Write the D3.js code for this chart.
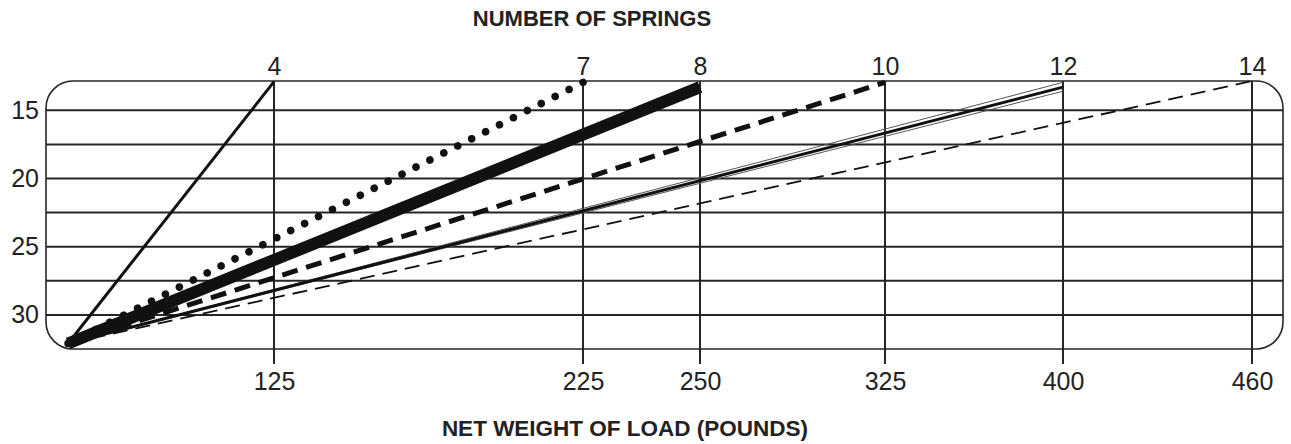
<!DOCTYPE html>
<html>
<head>
<meta charset="utf-8">
<script src="https://cdn.jsdelivr.net/npm/d3@7"></script>
<style>
  html, body { margin: 0; padding: 0; background: #fff; }
  svg { display: block; }
  text { font-family: "Liberation Sans", Arial, Helvetica, sans-serif; fill: #222; }
</style>
</head>
<body>
<svg id="chart" width="1291" height="444"></svg>
<script>
// ---- data ----
const springs   = [4, 7, 8, 10, 12, 14];
const maxLoad   = [125, 225, 250, 325, 400, 460];      // pounds at top of each line
const endHeight = [12.9, 12.95, 13.3, 12.95, 13.3, 12.85];
const startLoad = 0;
const startHeight = 32.1;
const band12End = [12.95, 13.6];                          // thin guide lines around 12-spring line
const yTickLabels = [15, 20, 25, 30];
const yGridValues = [15, 17.5, 20, 22.5, 25, 27.5, 30];
const topTitle = "NUMBER OF SPRINGS";
const bottomTitle = "NET WEIGHT OF LOAD (POUNDS)";

// ---- layout ----
const frame = { left: 46, right: 1283, top: 81, bottom: 349, r: 27 };
// hand-drawn (non-uniform) horizontal placement of load stops
const xStopsPx = [68, 274, 583, 700, 885, 1063, 1252];

const svg = d3.select("#chart");

const x = d3.scaleLinear()
  .domain([startLoad, ...maxLoad])
  .range(xStopsPx);

const y = d3.scaleLinear()
  .domain([12.85, 32.5])
  .range([frame.top, frame.bottom]);

const ink = "#262626";
const labelFont = '"Liberation Sans", Arial, sans-serif';
const labelSize = 25;

// frame
svg.append("rect")
  .attr("x", frame.left).attr("y", frame.top)
  .attr("width", frame.right - frame.left)
  .attr("height", frame.bottom - frame.top)
  .attr("rx", frame.r).attr("ry", frame.r)
  .attr("fill", "none").attr("stroke", ink).attr("stroke-width", 1.6);

// horizontal grid
svg.append("g").selectAll("line").data(yGridValues).join("line")
  .attr("x1", frame.left).attr("x2", frame.right)
  .attr("y1", d => y(d)).attr("y2", d => y(d))
  .attr("stroke", ink).attr("stroke-width", 2);

// vertical lines at max loads
svg.append("g").selectAll("line").data(maxLoad).join("line")
  .attr("x1", d => x(d)).attr("x2", d => x(d))
  .attr("y1", frame.top).attr("y2", frame.bottom + 15)
  .attr("stroke", ink).attr("stroke-width", 2);

// left axis labels
const yAxis = d3.axisLeft(y).tickValues(yTickLabels).tickSize(0).tickPadding(0);
const gy = svg.append("g").attr("transform", `translate(${frame.left - 7},0)`).call(yAxis);
gy.select(".domain").remove();
gy.selectAll("text").attr("font-size", labelSize).attr("fill", ink)
  .style("font-family", labelFont);

// bottom axis labels (load)
const xAxis = d3.axisBottom(x).tickValues(maxLoad).tickSize(0).tickPadding(0);
const gx = svg.append("g").attr("transform", `translate(0,${frame.bottom + 23})`).call(xAxis);
gx.select(".domain").remove();
gx.selectAll("text").attr("font-size", labelSize).attr("fill", ink).attr("dy", "0.71em")
  .style("font-family", labelFont);

// top axis labels (number of springs)
const xTop = d3.axisTop(x).tickValues(maxLoad)
  .tickFormat((d, i) => springs[i]).tickSize(0).tickPadding(0);
const gt = svg.append("g").attr("transform", `translate(0,${frame.top - 6})`).call(xTop);
gt.select(".domain").remove();
gt.selectAll("text").attr("font-size", labelSize).attr("fill", ink).attr("dy", 0)
  .style("font-family", labelFont);

// titles
svg.append("text").attr("x", 592).attr("y", 26)
  .attr("text-anchor", "middle").attr("font-size", 22).attr("font-weight", "bold")
  .text(topTitle);
svg.append("text").attr("x", 625).attr("y", 436)
  .attr("text-anchor", "middle").attr("font-size", 22.5).attr("font-weight", "bold")
  .text(bottomTitle);

// ---- spring lines ----
const line = d3.line().x(d => x(d.load)).y(d => y(d.h));
const pts = (load, h) => [{ load: startLoad, h: startHeight }, { load, h }];

const styles = {
  4:  { w: 3, dash: null, cap: "butt" },
  7:  { w: 7.5, dotGap: 15.7, cap: "round" },
  8:  { w: 12, dash: null, cap: "butt" },
  10: { w: 5, dash: "16,9", cap: "butt" },
  12: { w: 3, dash: null, cap: "butt" },
  14: { w: 1.8, dash: "15,8", cap: "butt" }
};

const gl = svg.append("g");

// thin guide lines around the 12-spring line
const i12 = springs.indexOf(12);
gl.selectAll("path.band").data(band12End).join("path")
  .attr("class", "band")
  .attr("d", h => line(pts(maxLoad[i12], h)))
  .attr("fill", "none").attr("stroke", "#555").attr("stroke-width", 1);

const order = [14, 12, 10, 4, 7, 8];
order.forEach(s => {
  const i = springs.indexOf(s);
  const st = styles[s];
  const p = gl.append("path")
    .attr("d", line(pts(maxLoad[i], endHeight[i])))
    .attr("fill", "none").attr("stroke", "#111")
    .attr("stroke-width", st.w)
    .attr("stroke-linecap", st.cap);
  if (st.dotGap) {
    // dots spaced so that the last dot sits exactly at the end of the line
    const len = p.node().getTotalLength();
    const n = Math.round(len / st.dotGap);
    const gap = len / n;
    p.attr("stroke-dasharray", `0,${gap}`).attr("stroke-dashoffset", 0);
    // extend dash pattern with final dot
    p.attr("stroke-dasharray", `0,${gap - 0.001},0.001,0`);
  } else if (st.dash) {
    p.attr("stroke-dasharray", st.dash);
  }
});
</script>
</body>
</html>
